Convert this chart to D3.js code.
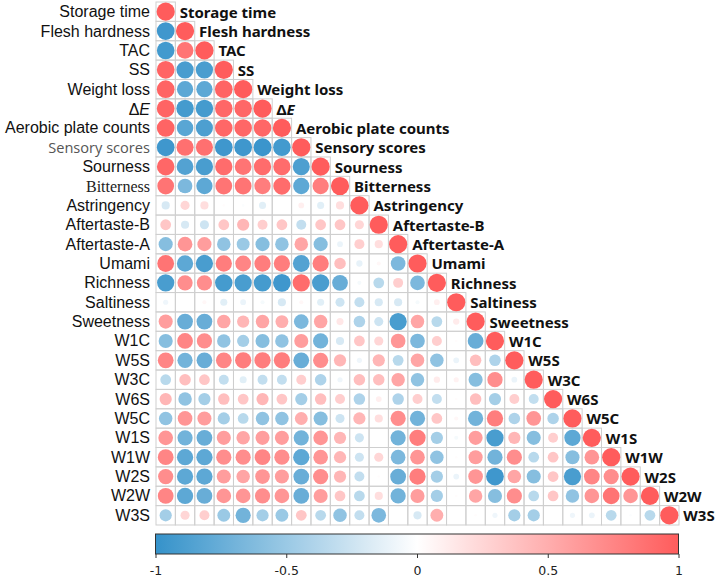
<!DOCTYPE html>
<html><head><meta charset="utf-8">
<script src="https://cdn.jsdelivr.net/npm/d3@7"></script>
<style>body{margin:0;background:#fff} svg{display:block}</style>
</head><body>
<svg id="chart" width="724" height="580"></svg>
<script>
// ---------- DATA ----------
const variables = ["Storage time","Flesh hardness","TAC","SS","Weight loss","ΔE","Aerobic plate counts","Sensory scores","Sourness","Bitterness","Astringency","Aftertaste-B","Aftertaste-A","Umami","Richness","Saltiness","Sweetness","W1C","W5S","W3C","W6S","W5C","W1S","W1W","W2S","W2W","W3S"];

const rowStorageTime   = [1];
const rowFleshHardness = [-0.95, 1];
const rowTAC           = [-0.93, 0.85, 1];
const rowSS            = [0.95, -0.9, -0.9, 1];
const rowWeightLoss    = [0.95, -0.8, -0.8, 0.95, 1];
const rowDeltaE        = [0.95, -0.92, -0.92, 0.93, 0.93, 1];
const rowAPC           = [0.95, -0.82, -0.88, 0.93, 0.93, 0.93, 1];
const rowSensory       = [-0.95, 0.88, 0.88, -0.95, -0.95, -0.97, -0.93, 1];
const rowSourness      = [0.93, -0.85, -0.9, 0.9, 0.85, 0.9, 0.9, -0.88, 1];
const rowBitterness    = [0.85, -0.65, -0.8, 0.85, 0.85, 0.8, 0.9, -0.8, 0.8, 1];
const rowAstringency   = [-0.2, 0.25, 0.2, 0.02, -0.02, -0.15, 0, 0.1, -0.15, 0.2, 1];
const rowAftertasteB   = [0.35, -0.2, -0.25, 0.35, 0.45, 0.3, 0.35, -0.3, 0.35, 0.35, 0.25, 1];
const rowAftertasteA   = [-0.6, 0.65, 0.6, -0.55, -0.5, -0.6, -0.55, 0.55, -0.6, -0.1, 0.3, 0.2, 1];
const rowUmami         = [0.85, -0.8, -0.9, 0.8, 0.75, 0.8, 0.8, -0.85, 0.8, 0.4, -0.12, 0.05, -0.65, 1];
const rowRichness      = [-0.9, 0.7, 0.7, -0.92, -0.9, -0.92, -0.95, 0.9, -0.9, -0.75, -0.05, -0.35, 0.3, -0.65, 1];
const rowSaltiness     = [-0.08, 0, 0.05, -0.15, -0.1, -0.05, -0.2, 0.05, -0.15, -0.25, -0.3, -0.2, -0.2, -0.05, 0.1, 1];
const rowSweetness     = [0.6, -0.75, -0.75, 0.55, 0.45, 0.55, 0.5, -0.65, 0.55, 0.15, -0.4, -0.25, -0.9, 0.55, -0.35, 0.12, 1];
const rowW1C           = [-0.6, 0.75, 0.7, -0.55, -0.45, -0.6, -0.55, 0.6, -0.7, -0.2, 0.35, 0.25, 0.65, -0.65, 0.3, 0.02, -0.75, 1];
const rowW5S           = [0.75, -0.7, -0.75, 0.75, 0.8, 0.8, 0.8, -0.75, 0.7, 0.45, -0.08, 0.45, -0.35, 0.55, -0.55, -0.1, 0.4, -0.4, 1];
const rowW3C           = [-0.35, 0.4, 0.35, -0.3, -0.15, -0.3, -0.3, 0.3, -0.4, -0.08, 0.4, 0.4, 0.55, -0.55, 0.12, 0.08, -0.6, 0.7, -0.1, 1];
const rowW6S           = [0.45, -0.55, -0.45, 0.4, 0.35, 0.45, 0.35, -0.45, 0.4, 0.3, -0.4, 0.1, -0.4, 0.3, -0.3, 0.02, 0.4, -0.45, 0.3, -0.3, 1];
const rowW5C           = [-0.55, 0.65, 0.6, -0.45, -0.35, -0.55, -0.55, 0.5, -0.6, -0.25, 0.45, 0.2, 0.7, -0.7, 0.35, 0.05, -0.7, 0.8, -0.4, 0.65, -0.4, 1];
const rowW1S           = [0.65, -0.7, -0.75, 0.6, 0.55, 0.6, 0.6, -0.7, 0.65, 0.45, -0.25, 0, -0.7, 0.8, -0.45, -0.05, 0.6, -0.9, 0.45, -0.6, 0.3, -0.8, 1];
const rowW1W           = [0.75, -0.8, -0.8, 0.7, 0.7, 0.75, 0.7, -0.8, 0.65, 0.45, -0.25, 0.25, -0.65, 0.65, -0.55, 0.02, 0.6, -0.7, 0.7, -0.35, 0.35, -0.6, 0.65, 1];
const rowW2S           = [0.7, -0.8, -0.8, 0.6, 0.55, 0.65, 0.6, -0.75, 0.7, 0.45, -0.3, 0.02, -0.75, 0.8, -0.45, -0.1, 0.65, -0.95, 0.55, -0.6, 0.35, -0.9, 0.75, 0.7, 1];
const rowW2W           = [0.75, -0.8, -0.75, 0.65, 0.65, 0.7, 0.65, -0.75, 0.6, 0.35, -0.35, 0.2, -0.7, 0.6, -0.45, 0.02, 0.55, -0.6, 0.7, -0.35, 0.35, -0.55, 0.65, 0.85, 0.65, 1];
const rowW3S           = [-0.45, 0.25, 0.3, -0.5, -0.7, -0.45, -0.5, 0.35, -0.35, -0.55, -0.3, -0.65, 0, -0.2, 0.5, 0, 0.02, -0.08, -0.45, -0.45, 0, -0.08, -0.1, -0.35, -0.02, -0.35, 1];

const colorbarTicks = [-1, -0.5, 0, 0.5, 1];

// ---------- BUILD ----------
const lowerRows = [rowStorageTime,rowFleshHardness,rowTAC,rowSS,rowWeightLoss,rowDeltaE,rowAPC,rowSensory,rowSourness,rowBitterness,rowAstringency,rowAftertasteB,rowAftertasteA,rowUmami,rowRichness,rowSaltiness,rowSweetness,rowW1C,rowW5S,rowW3C,rowW6S,rowW5C,rowW1S,rowW1W,rowW2S,rowW2W,rowW3S];
const cells = [];
lowerRows.forEach((row, i) => row.forEach((v, j) => cells.push({row: variables[i], col: variables[j], v, diag: i === j})));

const svg = d3.select("#chart");
const cellSize = 19.37;
const gx = 156, gy = 2;
const x = d3.scaleBand().domain(variables).range([gx, gx + variables.length * cellSize]);
const y = d3.scaleBand().domain(variables).range([gy, gy + variables.length * cellSize]);
const BLUE = "#3592ca", RED = "#ff5c5c";
const color = d3.scaleLinear().domain([-1, 0, 1]).range([BLUE, "#ffffff", RED]).interpolate(d3.interpolateRgb);
const rad = d3.scaleSqrt().domain([0, 1]).range([0, cellSize * 0.47]);

// grid cells
svg.append("g").selectAll("rect").data(cells).join("rect")
  .attr("x", d => x(d.col)).attr("y", d => y(d.row))
  .attr("width", x.bandwidth()).attr("height", y.bandwidth())
  .attr("fill", "none").attr("stroke", "#cfcfcf").attr("stroke-width", 1);

// circles
svg.append("g").selectAll("circle").data(cells).join("circle")
  .attr("cx", d => x(d.col) + x.bandwidth() / 2)
  .attr("cy", d => y(d.row) + y.bandwidth() / 2)
  .attr("r", d => rad(Math.abs(d.v)))
  .attr("fill", d => color(d.v));

// left labels
const leftStyle = name => {
  if (name === "Sensory scores") return {family: "'Open Sans', sans-serif", size: 14.6, fill: "#555"};
  if (name === "Bitterness") return {family: "'Liberation Serif', 'Times New Roman', serif", size: 16, fill: "#222"};
  return {family: "'Liberation Sans', Arial, sans-serif", size: 16, fill: "#111"};
};
const left = svg.append("g");
variables.forEach(name => {
  const s = leftStyle(name);
  const t = left.append("text")
    .attr("x", 150).attr("y", y(name) + y.bandwidth() / 2)
    .attr("text-anchor", "end").attr("dominant-baseline", "central")
    .attr("font-family", s.family).attr("font-size", s.size).attr("fill", s.fill);
  if (name === "ΔE") {
    t.append("tspan").text("Δ");
    t.append("tspan").attr("font-style", "italic").text("E");
  } else t.text(name);
});

// diagonal labels
const diag = svg.append("g");
variables.forEach(name => {
  const t = diag.append("text")
    .attr("x", x(name) + x.bandwidth() / 2 + 14)
    .attr("y", y(name) + y.bandwidth() / 2)
    .attr("dominant-baseline", "central")
    .attr("font-family", "'Noto Sans', 'Open Sans', sans-serif")
    .attr("font-weight", "bold").attr("font-size", 15).attr("fill", "#111");
  if (name === "ΔE") {
    t.append("tspan").text("Δ");
    t.append("tspan").attr("font-style", "italic").text("E");
  } else t.text(name);
});

// colorbar
const cbX0 = 155.5, cbX1 = 678.5, cbY = 534, cbH = 20;
const defs = svg.append("defs");
const grad = defs.append("linearGradient").attr("id", "cbgrad").attr("x1", "0%").attr("x2", "100%");
d3.range(0, 1.0001, 0.05).forEach(t => {
  grad.append("stop").attr("offset", (t * 100) + "%").attr("stop-color", color(-1 + 2 * t));
});
svg.append("rect").attr("x", cbX0).attr("y", cbY).attr("width", cbX1 - cbX0).attr("height", cbH)
  .attr("fill", "url(#cbgrad)").attr("stroke", "#333").attr("stroke-width", 1);
const cbScale = d3.scaleLinear().domain([-1, 1]).range([cbX0, cbX1]);
const axis = svg.append("g").attr("transform", `translate(0,${cbY + cbH})`)
  .call(d3.axisBottom(cbScale).tickValues(colorbarTicks).tickSize(4).tickFormat(d => String(d)));
axis.select(".domain").remove();
axis.selectAll("line").attr("stroke", "#333");
axis.selectAll("text").attr("font-family", "'DejaVu Sans', sans-serif").attr("font-size", 12.5).attr("fill", "#222").attr("dy", "1.1em");
</script>
</body></html>
